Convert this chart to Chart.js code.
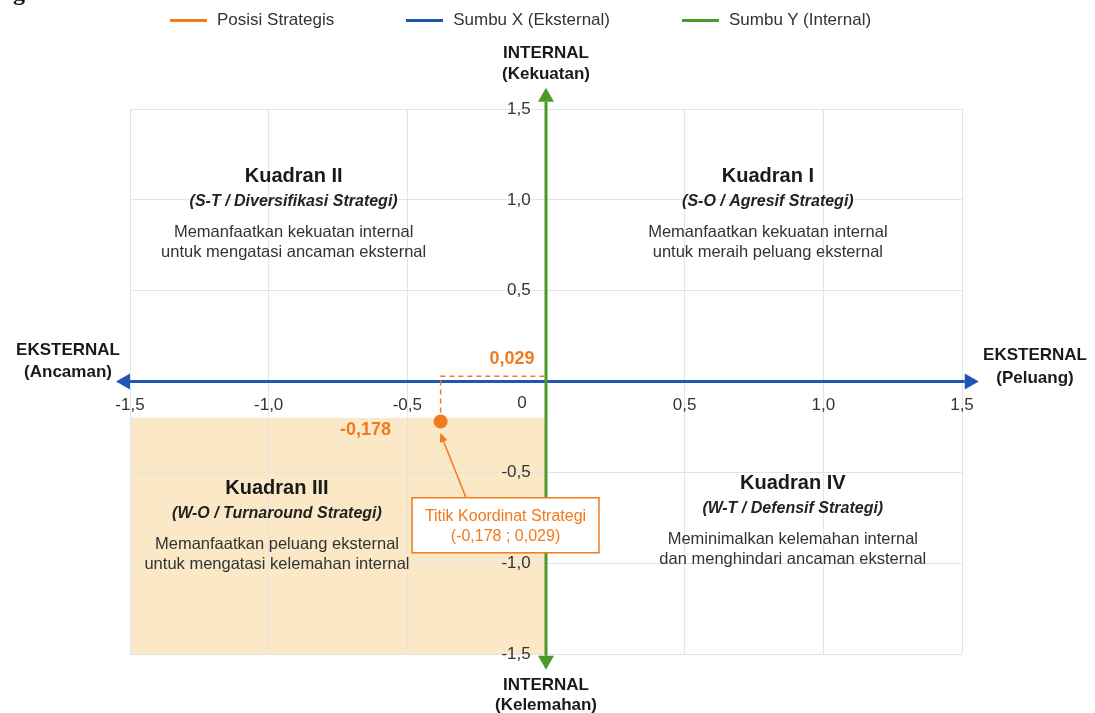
<!DOCTYPE html>
<html>
<head>
<meta charset="utf-8">
<script src="https://cdn.jsdelivr.net/npm/chart.js@4/dist/chart.umd.min.js"></script>
<style>
  html, body { margin: 0; padding: 0; background: #fff; overflow: hidden; }
  #wrap { position: relative; width: 1095px; height: 713px; }
  #swot { display: block; }
  #cut { position: absolute; left: 1px; top: -21px; font: bold 24px "Liberation Serif", serif; color: #111; }
  #legend { position: absolute; left: 170px; top: 10px; display: flex; gap: 72px;
            font: 17px "Liberation Sans", Arial, sans-serif; color: #333; }
  .lg-item { display: flex; align-items: center; gap: 10px; }
  .lg-line { width: 37px; height: 3px; }
</style>
</head>
<body>
<div id="wrap">
  <div id="cut">ag</div>
  <canvas id="swot" width="1095" height="713"></canvas>
  <div id="legend"></div>
</div>
<script>
// ---- data ----
const scaleMin = -1.5;
const scaleMax = 1.5;
const scaleStep = 0.5;

const seriesNames = ["Posisi Strategis", "Sumbu X (Eksternal)", "Sumbu Y (Internal)"];

// titik posisi strategis (as drawn in the picture)
const posX = [-0.38];
const posY = [-0.22];
const coordLabels = ["-0,178", "0,029"];

// dashed guide from the point to the Y axis
const guideX = [-0.38, -0.38, 0];
const guideY = [-0.22, 0.029, 0.029];

// axis lines
const sumbuXx = [-1.5, 1.51];
const sumbuXy = [0, 0];
const sumbuYx = [0, 0];
const sumbuYy = [-1.51, 1.54];

// shaded quadrant III
const quadIIIx = [-1.5, 0];
const quadIIIy = [-1.5, -0.2];

const quadTitles = ["Kuadran I", "Kuadran II", "Kuadran III", "Kuadran IV"];
const quadCodes = ["(S-O / Agresif Strategi)", "(S-T / Diversifikasi Strategi)",
                   "(W-O / Turnaround Strategi)", "(W-T / Defensif Strategi)"];
const quadDesc = [
  ["Memanfaatkan kekuatan internal", "untuk meraih peluang eksternal"],
  ["Memanfaatkan kekuatan internal", "untuk mengatasi ancaman eksternal"],
  ["Memanfaatkan peluang eksternal", "untuk mengatasi kelemahan internal"],
  ["Meminimalkan kelemahan internal", "dan menghindari ancaman eksternal"]
];
const calloutText = ["Titik Koordinat Strategi", "(-0,178 ; 0,029)"];

// ---- styles / layout ----
const ORANGE = "#f07a1c";
const BLUE = "#1f56b5";
const GREEN = "#4a9a2a";
const SHADE = "#fbe8c6";
const FONT = '"Liberation Sans", Arial, sans-serif';

const quadPos = [
  { x: 0.80, y: 1.13 },
  { x: -0.91, y: 1.13 },
  { x: -0.97, y: -0.59 },
  { x: 0.89, y: -0.56 }
];
const calloutBox = { x0: -0.483, x1: 0.191, y0: -0.64, y1: -0.943 };

const fmt = v => v.toFixed(1).replace(".", ",");
const pts = (xs, ys) => xs.map((x, i) => ({ x, y: ys[i] }));

function txt(ctx, s, x, y, font, color, align) {
  ctx.font = font;
  ctx.fillStyle = color;
  ctx.textAlign = align || "center";
  ctx.textBaseline = "middle";
  ctx.fillText(s, x, y);
}

function arrowHead(ctx, x, y, dx, dy, len, half, color) {
  const d = Math.hypot(dx, dy);
  const ux = dx / d, uy = dy / d;
  ctx.beginPath();
  ctx.moveTo(x + ux * len, y + uy * len);
  ctx.lineTo(x - uy * half, y + ux * half);
  ctx.lineTo(x + uy * half, y - ux * half);
  ctx.closePath();
  ctx.fillStyle = color;
  ctx.fill();
}

const decor = {
  id: "swotDecor",
  beforeDraw(chart) {
    const { ctx, scales: { x, y } } = chart;
    const l = x.getPixelForValue(quadIIIx[0]), r = x.getPixelForValue(quadIIIx[1]);
    const t = y.getPixelForValue(quadIIIy[1]), b = y.getPixelForValue(quadIIIy[0]);
    ctx.save();
    ctx.fillStyle = SHADE;
    ctx.fillRect(l, t, r - l, b - t);
    ctx.restore();
  },
  afterDatasetsDraw(chart) {
    const { ctx, scales: { x, y } } = chart;
    ctx.save();

    // arrow heads on both axes
    [1, 2].forEach(i => {
      const d = chart.getDatasetMeta(i).data;
      const a = d[0], b = d[d.length - 1];
      const col = chart.data.datasets[i].borderColor;
      arrowHead(ctx, b.x, b.y, b.x - a.x, b.y - a.y, 14, 8, col);
      arrowHead(ctx, a.x, a.y, a.x - b.x, a.y - b.y, 14, 8, col);
    });

    const x0 = x.getPixelForValue(0), y0 = y.getPixelForValue(0);
    const top = y.getPixelForValue(scaleMax), bot = y.getPixelForValue(scaleMin);
    const left = x.getPixelForValue(scaleMin), right = x.getPixelForValue(scaleMax);

    // origin label
    txt(ctx, "0", x0 - 24, y0 + 22, `17px ${FONT}`, "#333");

    // axis titles
    const tf = `bold 17px ${FONT}`;
    txt(ctx, "INTERNAL", x0, top - 56, tf, "#1a1a1a");
    txt(ctx, "(Kekuatan)", x0, top - 35, tf, "#1a1a1a");
    txt(ctx, "INTERNAL", x0, bot + 31, tf, "#1a1a1a");
    txt(ctx, "(Kelemahan)", x0, bot + 51, tf, "#1a1a1a");
    txt(ctx, "EKSTERNAL", left - 62, y0 - 31, tf, "#1a1a1a");
    txt(ctx, "(Ancaman)", left - 62, y0 - 9, tf, "#1a1a1a");
    txt(ctx, "EKSTERNAL", right + 73, y0 - 26, tf, "#1a1a1a");
    txt(ctx, "(Peluang)", right + 73, y0 - 3, tf, "#1a1a1a");

    // quadrant texts
    quadPos.forEach((p, i) => {
      const px = x.getPixelForValue(p.x), py = y.getPixelForValue(p.y);
      txt(ctx, quadTitles[i], px, py, `bold 20px ${FONT}`, "#1a1a1a");
      txt(ctx, quadCodes[i], px, py + 25, `italic bold 16px ${FONT}`, "#222");
      txt(ctx, quadDesc[i][0], px, py + 56, `16.5px ${FONT}`, "#333");
      txt(ctx, quadDesc[i][1], px, py + 76, `16.5px ${FONT}`, "#333");
    });

    // coordinate labels
    const dot = chart.getDatasetMeta(0).data[0];
    const gy = y.getPixelForValue(guideY[1]);
    txt(ctx, coordLabels[1], x0 - 34, gy - 17, `bold 18px ${FONT}`, ORANGE);
    txt(ctx, coordLabels[0], dot.x - 75, dot.y + 9, `bold 18px ${FONT}`, ORANGE);

    // callout box
    const bl = x.getPixelForValue(calloutBox.x0), br = x.getPixelForValue(calloutBox.x1);
    const bt = y.getPixelForValue(calloutBox.y0), bb = y.getPixelForValue(calloutBox.y1);
    ctx.fillStyle = "#fff";
    ctx.fillRect(bl, bt, br - bl, bb - bt);
    ctx.strokeStyle = ORANGE;
    ctx.lineWidth = 1.5;
    ctx.strokeRect(bl, bt, br - bl, bb - bt);
    const cx = (bl + br) / 2, cy = (bt + bb) / 2;
    txt(ctx, calloutText[0], cx, cy - 9, `16px ${FONT}`, ORANGE);
    txt(ctx, calloutText[1], cx, cy + 11, `16px ${FONT}`, ORANGE);

    // pointer from box to point
    const sx = bl + 54, sy = bt;
    const ex = dot.x + 3, ey = dot.y + 20;
    ctx.beginPath();
    ctx.moveTo(sx, sy);
    ctx.lineTo(ex, ey);
    ctx.strokeStyle = ORANGE;
    ctx.lineWidth = 1.5;
    ctx.stroke();
    arrowHead(ctx, ex, ey, ex - sx, ey - sy, 9, 4, ORANGE);

    ctx.restore();
  }
};

const htmlLegend = {
  id: "htmlLegend",
  afterUpdate(chart) {
    const box = document.getElementById("legend");
    box.innerHTML = "";
    const items = Chart.defaults.plugins.legend.labels.generateLabels(chart)
      .filter(it => seriesNames.includes(it.text))
      .sort((a, b) => a.datasetIndex - b.datasetIndex);
    items.forEach(it => {
      const el = document.createElement("div");
      el.className = "lg-item";
      const ln = document.createElement("span");
      ln.className = "lg-line";
      ln.style.background = it.strokeStyle;
      const tx = document.createElement("span");
      tx.textContent = it.text;
      el.appendChild(ln);
      el.appendChild(tx);
      box.appendChild(el);
    });
  }
};

const tickOpts = {
  stepSize: scaleStep,
  color: "#333",
  font: { size: 17, family: FONT },
  callback: v => (v === 0 ? "" : fmt(v))
};

new Chart(document.getElementById("swot"), {
  type: "scatter",
  data: {
    datasets: [
      { label: seriesNames[0], data: pts(posX, posY), order: 0,
        backgroundColor: ORANGE, borderColor: ORANGE, pointRadius: 7, pointBorderWidth: 0 },
      { label: seriesNames[1], data: pts(sumbuXx, sumbuXy), order: 3, showLine: true, clip: false,
        backgroundColor: BLUE, borderColor: BLUE, borderWidth: 3, pointRadius: 0 },
      { label: seriesNames[2], data: pts(sumbuYx, sumbuYy), order: 2, showLine: true, clip: false,
        backgroundColor: GREEN, borderColor: GREEN, borderWidth: 3, pointRadius: 0 },
      { label: "guide", data: pts(guideX, guideY), order: 1, showLine: true, clip: false,
        borderColor: ORANGE, backgroundColor: ORANGE, borderWidth: 1.5, borderDash: [5, 4], pointRadius: 0 }
    ]
  },
  options: {
    responsive: false,
    animation: false,
    events: [],
    layout: { padding: { left: 130, right: 133, top: 109, bottom: 59 } },
    plugins: {
      legend: { display: false },
      tooltip: { enabled: false }
    },
    scales: {
      x: {
        type: "linear", min: scaleMin, max: scaleMax,
        position: { y: 0 },
        grid: { color: "#e4e4e4", drawTicks: false },
        border: { display: false },
        ticks: { ...tickOpts, padding: 14 }
      },
      y: {
        type: "linear", min: scaleMin, max: scaleMax,
        // labels sit just left of the green axis line
        position: { x: -0.055 },
        grid: { color: "#e4e4e4", drawTicks: false },
        border: { display: false },
        ticks: { ...tickOpts }
      }
    }
  },
  plugins: [decor, htmlLegend]
});
</script>
</body>
</html>
